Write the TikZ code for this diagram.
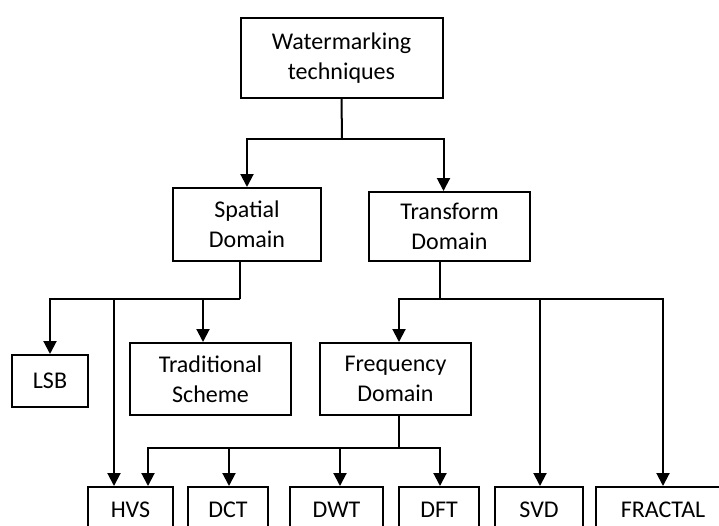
\documentclass[tikz,border=0pt]{standalone}
\usepackage{fontspec}
\setmainfont{Carlito}
\usetikzlibrary{arrows.meta}
\begin{document}
\begin{tikzpicture}[x=1pt,y=-1pt,
  box/.style={draw,line width=2pt,align=center,inner sep=0pt,font=\fontsize{24}{30}\selectfont},
  link/.style={line width=2pt},
  arr/.style={link,-{Triangle[width=13pt,length=13pt]}}]
\useasboundingbox (0,0) rectangle (719,525);
\clip (0,0) rectangle (719,525);
\fill[white] (0,0) rectangle (719,525);
% nodes
\node[box,minimum width=202pt,minimum height=80pt] (W) at (341.5,58) {Watermarking\\techniques};
\node[box,minimum width=148pt,minimum height=73pt] (S) at (247,224.5) {Spatial\\Domain};
\node[box,minimum width=161pt,minimum height=69pt] (T) at (449.5,226.5) {Transform\\Domain};
\node[box,minimum width=76pt,minimum height=52pt] (LSB) at (50,381) {LSB};
\node[box,minimum width=161pt,minimum height=72pt] (TR) at (210.5,379) {Traditional\\Scheme};
\node[box,minimum width=151pt,minimum height=72pt] (F) at (395.5,379) {Frequency\\Domain};
\node[box,minimum width=85pt,minimum height=46pt] (HVS) at (130.5,510) {HVS};
\node[box,minimum width=80pt,minimum height=46pt] (DCT) at (228,510) {DCT};
\node[box,minimum width=93pt,minimum height=46pt] (DWT) at (336.5,510) {DWT};
\node[box,minimum width=80pt,minimum height=46pt] (DFT) at (439,510) {DFT};
\node[box,minimum width=88pt,minimum height=46pt] (SVD) at (539,510) {SVD};
\node[box,minimum width=134pt,minimum height=46pt] (FR) at (663,510) {FRACTAL};
% junctions
\coordinate (j1) at (342,139);
\coordinate (j2) at (240,299);
\coordinate (j3) at (440,299);
\coordinate (j4) at (399,448);
% connectors
\draw[link] (W.south) -- (j1);
\draw[arr] (j1) -| (S.north);
\draw[arr] (j1) -| (T.north -| W.east);
\draw[link] (S.south -| j2) -- (j2);
\draw[arr] (j2) -| (LSB.north);
\draw[arr] (j2) -| (TR.north -| 203,0);
\draw[arr] (LSB.north |- j2) -| (HVS.north -| 114,0);
\draw[link] (T.south -| j3) -- (j3);
\draw[arr] (j3) -| (F.north -| j4);
\draw[arr] (j3) -| (SVD.north -| 540,0);
\draw[arr] (j3) -| (FR.north);
\draw[link] (F.south -| j4) -- (j4);
\draw[arr] (j4) -| (HVS.north -| 148,0);
\draw[arr] (j4) -| (DCT.north -| 229,0);
\draw[arr] (j4) -| (DWT.north -| 340,0);
\draw[arr] (j4) -| (DFT.north -| j3);
\end{tikzpicture}
\end{document}
